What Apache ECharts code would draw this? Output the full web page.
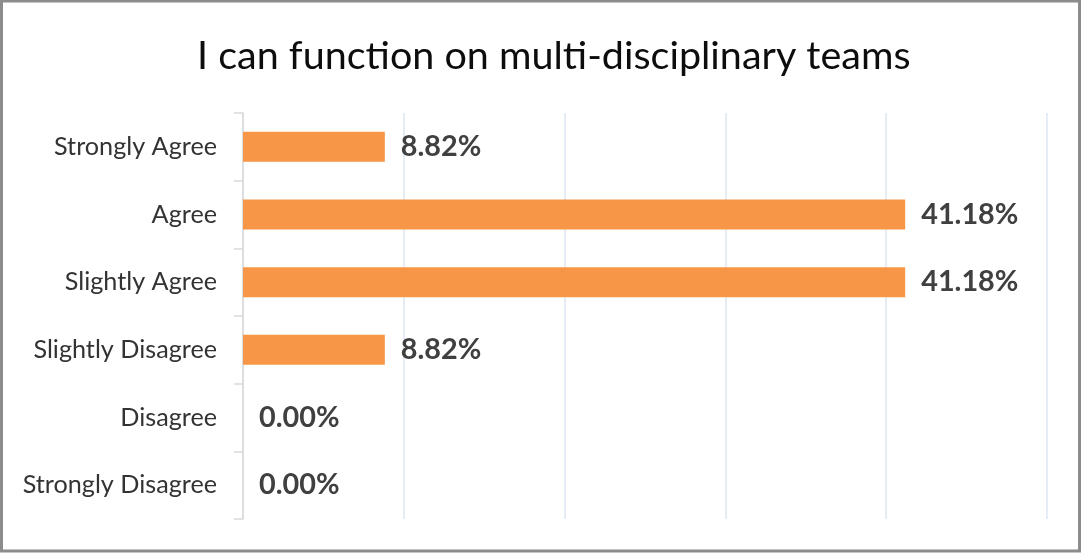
<!DOCTYPE html>
<html>
<head>
<meta charset="utf-8">
<script src="https://cdn.jsdelivr.net/npm/echarts@6/dist/echarts.min.js"></script>
<style>
html,body{margin:0;padding:0;background:#fff;}
#chart{width:1082px;height:553px;}
</style>
</head>
<body>
<div id="chart"></div>
<script>
const titleText = 'I can function on multi-disciplinary teams';
const categories = ['Strongly Agree', 'Agree', 'Slightly Agree', 'Slightly Disagree', 'Disagree', 'Strongly Disagree'];
const values = [8.82, 41.18, 41.18, 8.82, 0.00, 0.00];
const axisMax = 50;
const axisStep = 10;

const chart = echarts.init(document.getElementById('chart'));
chart.setOption({
  animation: false,
  backgroundColor: '#ffffff',
  title: {
    text: titleText,
    left: 192,
    top: 31,
    textStyle: {
      fontFamily: 'Lato',
      fontSize: 39.5,
      fontWeight: 'normal',
      color: '#0d0d0d'
    }
  },
  grid: {
    left: 243,
    right: 35,
    top: 113,
    bottom: 34,
    containLabel: false
  },
  xAxis: {
    type: 'value',
    min: 0,
    max: axisMax,
    interval: axisStep,
    axisLabel: { show: false },
    axisLine: { show: false },
    axisTick: { show: false },
    splitLine: { show: true, lineStyle: { color: '#dce6f2', width: 1.5 } }
  },
  yAxis: {
    type: 'category',
    data: categories,
    inverse: true,
    axisLine: { show: true, lineStyle: { color: '#d9d9d9', width: 1.5 } },
    axisTick: { show: true, length: 9, lineStyle: { color: '#d9d9d9', width: 1.5 } },
    axisLabel: {
      margin: 26,
      fontFamily: 'Lato',
      fontSize: 25.2,
      color: '#333333'
    }
  },
  series: [{
    type: 'bar',
    data: values,
    barWidth: 30,
    itemStyle: { color: '#F79646' },
    label: {
      show: true,
      position: 'right',
      distance: 16,
      fontFamily: 'Lato',
      fontSize: 28.8,
      fontWeight: 'bold',
      color: '#404040',
      formatter: p => p.value.toFixed(2) + '%'
    }
  }],
  graphic: [{
    type: 'rect',
    silent: true,
    shape: { x: 1.5, y: 1, width: 1078, height: 550 },
    style: { fill: 'none', stroke: '#8c8c8c', lineWidth: 3 }
  }]
});
</script>
</body>
</html>
